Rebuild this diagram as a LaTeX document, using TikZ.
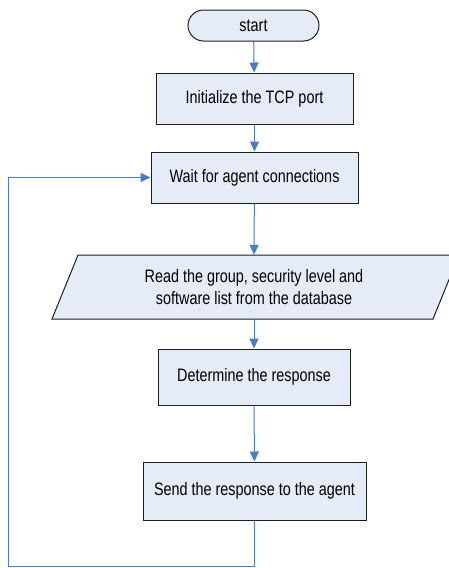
\documentclass[tikz,border=0pt]{standalone}
\usepackage{fontspec}
\setmainfont{Liberation Sans}[FakeStretch=0.8]
\usetikzlibrary{arrows.meta,shapes.misc}
\definecolor{boxfill}{HTML}{E6ECF7}
\definecolor{boxline}{HTML}{1E1E1E}
\definecolor{flowblue}{HTML}{4A7BC8}
\tikzset{
  labelfont/.style={font=\fontsize{18}{22}\selectfont, align=center},
  procbox/.style={draw=boxline, fill=boxfill, line width=1pt, inner sep=0pt, labelfont},
  flow/.style={draw=flowblue, line width=1pt, -{Triangle[length=10pt,width=9pt]}}
}
\begin{document}
\begin{tikzpicture}[x=1pt,y=-1pt]
\useasboundingbox (0,0) rectangle (449,568);
\node[procbox, rounded rectangle, minimum width=131pt, minimum height=31pt] (start) at (253.5,25.5) {start};
\node[procbox, minimum width=197pt, minimum height=51pt] (init) at (254.5,98.5) {Initialize the TCP port};
\node[procbox, minimum width=207pt, minimum height=51pt] (wait) at (254.5,177.5) {Wait for agent connections};
% input/output parallelogram, drawn beneath its label node
\filldraw[draw=boxline, fill=boxfill, line width=1pt] (52,319) -- (78,255) -- (459,255) -- (433,319) -- cycle;
\node[inner sep=0pt, minimum width=360pt, minimum height=64pt, labelfont] (read) at (254,287) {Read the group, security level and\\software list from the database};
\node[procbox, minimum width=192pt, minimum height=56pt] (determine) at (254,377) {Determine the response};
\node[procbox, minimum width=223pt, minimum height=58pt] (send) at (254.5,491) {Send the response to the agent};
\coordinate (c1) at (8,566.5);
\coordinate (c2) at (8,177.5);
\draw[flow] (start) -- (init);
\draw[flow] (init) -- (wait);
\draw[flow] (wait) -- (read.north);
\draw[flow] (read.south) -- (determine);
\draw[flow] (determine) -- (send);
\draw[flow] (send.south) |- (c1) -- (c2) -- (wait.west);
\end{tikzpicture}
\end{document}
